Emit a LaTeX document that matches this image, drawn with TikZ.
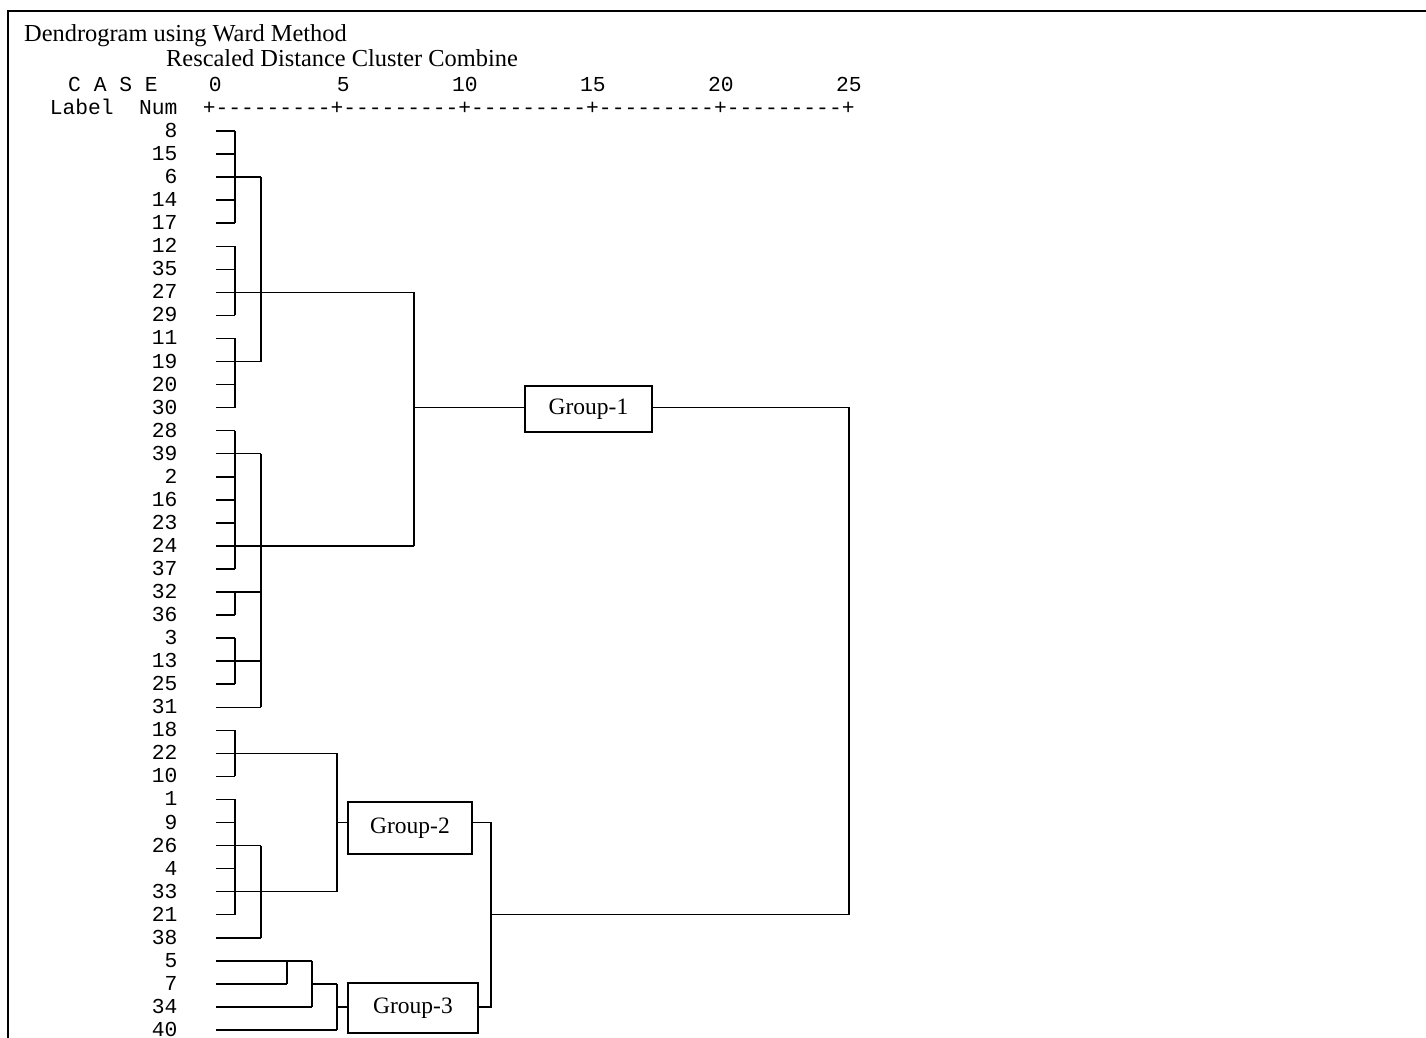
\documentclass[tikz,border=0pt]{standalone}
\usepackage{fontspec}
\setmainfont{Liberation Serif}
\newfontfamily\spssmono{Liberation Mono}
\usepackage{tikz}
\usetikzlibrary{positioning,calc}
\newcommand{\hy}{\mbox{-}}
\newcommand{\axseg}{\hy\hy\hy\hy\hy\hy\hy\hy\hy+}

\begin{document}
\begin{tikzpicture}[x=1pt,y=-1pt,
  mono/.style={font=\spssmono\fontsize{21.3}{23}\selectfont,inner sep=0pt},
  serif/.style={font=\fontsize{24.4}{27}\selectfont,inner sep=0pt},
  link/.style={line width=1.5pt},
  grp/.style={draw,line width=2.2pt,font=\fontsize{23.5}{26}\selectfont,inner sep=0pt}]
\useasboundingbox (0,0) rectangle (1426,1038);
\draw[line width=2.3pt] (8,1038) -- (8,11) -- (1426,11);
\node[serif,anchor=base west] (title) at (24,41.5) {Dendrogram using Ward Method};
\node[serif,anchor=base west] (subtitle) at (166,66.5) {Rescaled Distance Cluster Combine};
\node[mono,anchor=base west] (case) at (68,92) {C A S E};
\node[mono,anchor=base west] (label) at (49.6,115) {Label};
\node[mono,anchor=base east] (num) at (177.6,115) {Num};
\node[mono,anchor=base west] (axis) at (202.6,115) {+\axseg\axseg\axseg\axseg\axseg};
\foreach \v [count=\k from 0] in {0,5,10,15,20,25}
  \node[mono,anchor=base east] (tick\v) at ({221.8+128*\k},92) {\v};
% where the clusters join
\coordinate (xa) at (235,0);
\coordinate (xb) at (261,0);
\coordinate (xe) at (287,0);
\coordinate (xf) at (312,0);
\coordinate (xd) at (337,0);
\coordinate (xc) at (414,0);
\coordinate (xh) at (491,0);
\coordinate (xg) at (849,0);
% cases and their leaves
\foreach \n/\e [count=\i from 0] in {8/a,15/a,6/b,14/a,17/a,12/a,35/a,27/c,29/a,11/a,
    19/b,20/a,30/a,28/a,39/b,2/a,16/a,23/a,24/c,37/a,32/b,36/a,3/a,13/b,25/a,31/b,
    18/a,22/d,10/a,1/a,9/a,26/b,4/a,33/d,21/a,38/b,5/f,7/e,34/f,40/d}{
  \node[mono,anchor=base east] (n\n) at (177.6,{137.5+23.05*\i}) {\n};
  \coordinate (r\i) at (216,{131+23.05*\i});
  \draw[link] (r\i) -- (r\i -| x\e);
}
\foreach \j/\a/\b in {a/0/4,a/5/8,a/9/12,a/13/19,a/20/21,a/22/24,a/26/28,a/29/34,
    b/2/10,b/14/25,b/31/35,c/7/18,d/27/33,d/37/39,e/36/37,f/36/38}
  \draw[link] (r\a -| x\j) -- (r\b -| x\j);
\draw[link] (r37 -| xf) -- (r37 -| xd);
% groups
\node[grp,minimum width=127pt,minimum height=46pt] (g1) at (588.5,409) {Group-1};
\node[grp,minimum width=124pt,minimum height=52pt] (g2) at (410,828) {Group-2};
\node[grp,minimum width=130pt,minimum height=50pt] (g3) at (413,1008) {Group-3};
\draw[link] (r12 -| xc) -- (g1.west |- r12);
\draw[link] (r30 -| xd) -- (g2.west |- r30);
\draw[link] (r38 -| xd) -- (g3.west |- r38);
\draw[link] (g2.east |- r30) -- (r30 -| xh) -- (r38 -| xh) -- (g3.east |- r38);
\draw[link] (g1.east |- r12) -- (r12 -| xg) -- (r34 -| xg) -- (r34 -| xh);
\end{tikzpicture}
\end{document}
